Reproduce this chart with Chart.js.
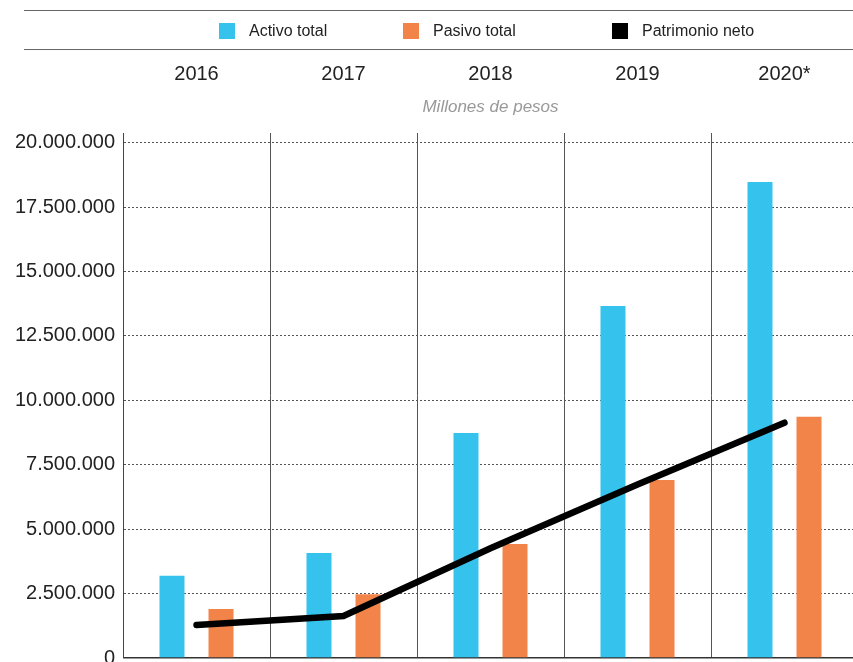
<!DOCTYPE html>
<html>
<head>
<meta charset="utf-8">
<script src="https://cdn.jsdelivr.net/npm/chart.js@4"></script>
<style>
  html, body { margin: 0; padding: 0; overflow: hidden; background: #fff; }
  #wrap { position: relative; width: 858px; height: 678px; }
  #legend {
    position: absolute; left: 24px; right: -10px; top: 10px; height: 38px;
    border-top: 1.5px solid #666; border-bottom: 1.5px solid #666;
    font-family: 'Liberation Sans', Arial, sans-serif; font-size: 16px; color: #222;
  }
  .item { position: absolute; top: 11px; display: flex; align-items: center; }
  .item span.box { width: 16px; height: 16px; margin-right: 14px; }
  .item:nth-child(1) { left: 195px; }
  .item:nth-child(2) { left: 379px; }
  .item:nth-child(3) { left: 588px; }
</style>
</head>
<body>
<div id="wrap">
  <canvas id="chart" width="858" height="678"></canvas>
  <div id="legend"></div>
</div>
<script>
const years = ['2016', '2017', '2018', '2019', '2020*'];
const activoTotal = [3190000, 4070000, 8730000, 13660000, 18470000];
const pasivoTotal = [1900000, 2470000, 4420000, 6910000, 9360000];
const patrimonioNeto = [1280000, 1630000, 4260000, 6730000, 9130000];
const seriesNames = ['Activo total', 'Pasivo total', 'Patrimonio neto'];
const yTicks = [0, 2500000, 5000000, 7500000, 10000000, 12500000, 15000000, 17500000, 20000000];

const colors = ['#35C3EE', '#F2844A', '#000000'];
const font = "'Liberation Sans', Arial, sans-serif";

// legend (html, between the two rules)
const legend = document.getElementById('legend');
seriesNames.forEach((name, i) => {
    const item = document.createElement('div');
    item.className = 'item';
    item.innerHTML = '<span class="box" style="background:' + colors[i] + '"></span><span>' + name + '</span>';
    legend.appendChild(item);
});

function withDots(v) {
    return String(v).replace(/\B(?=(\d{3})+(?!\d))/g, '.');
}

new Chart(document.getElementById('chart'), {
    data: {
        labels: years,
        datasets: [
            {
                type: 'line',
                label: seriesNames[2],
                data: patrimonioNeto,
                borderColor: colors[2],
                borderWidth: 6.5,
                borderCapStyle: 'round',
                pointRadius: 0,
                tension: 0,
                order: 0
            },
            {
                type: 'bar',
                label: seriesNames[0],
                data: activoTotal,
                backgroundColor: colors[0],
                order: 1
            },
            {
                type: 'bar',
                label: seriesNames[1],
                data: pasivoTotal,
                backgroundColor: colors[1],
                order: 1
            }
        ]
    },
    options: {
        responsive: false,
        animation: false,
        datasets: {
            bar: {
                categoryPercentage: 0.667,
                barPercentage: 0.51
            }
        },
        layout: {
            padding: { top: 51.5, left: 0, right: 0, bottom: 0 }
        },
        plugins: {
            legend: { display: false },
            tooltip: { enabled: false }
        },
        scales: {
            x: {
                type: 'category',
                position: 'top',
                weight: 2,
                offset: true,
                grid: {
                    offset: true,
                    color: '#555',
                    lineWidth: 1,
                    drawTicks: false
                },
                border: { display: false },
                ticks: {
                    font: { family: font, size: 20 },
                    color: '#222',
                    padding: 10.6,
                    maxRotation: 0,
                    autoSkip: false
                }
            },
            x2: {
                type: 'category',
                position: 'top',
                weight: 1,
                offset: true,
                grid: { display: false, drawTicks: false },
                border: { display: false },
                ticks: { display: false },
                title: {
                    display: true,
                    text: 'Millones de pesos',
                    color: '#999',
                    font: { family: font, size: 17, style: 'italic' },
                    padding: { top: 0, bottom: 16 }
                }
            },
            y: {
                min: 0,
                max: 20370000,
                afterFit: (scale) => { scale.width = 123; },
                afterBuildTicks: (scale) => {
                    scale.ticks = yTicks.map(v => ({ value: v }));
                },
                ticks: {
                    padding: 8,
                    color: '#222',
                    font: { family: font, size: 20 },
                    callback: (value) => withDots(value)
                },
                grid: {
                    color: (c) => (c.tick && c.tick.value === 0) ? '#333' : '#555',
                    lineWidth: (c) => (c.tick && c.tick.value === 0) ? 1.5 : 1,
                    drawTicks: false
                },
                border: {
                    display: true,
                    color: '#444',
                    width: 1,
                    dash: (c) => c.tick ? (c.tick.value === 0 ? [] : [2, 2]) : []
                }
            }
        }
    }
});
</script>
</body>
</html>
